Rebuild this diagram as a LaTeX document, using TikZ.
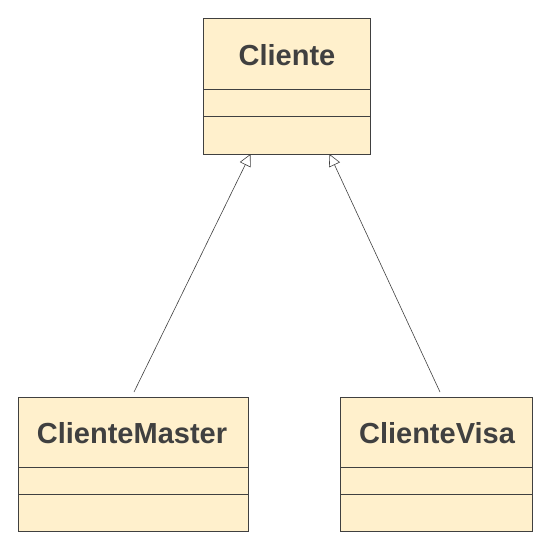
\documentclass[tikz,border=0pt]{standalone}
\usepackage{fontspec}
\setmainfont{Liberation Sans}
\usetikzlibrary{arrows.meta}
\definecolor{boxfill}{HTML}{FFF0CC}
\definecolor{boxdraw}{HTML}{404040}
\definecolor{txt}{HTML}{404040}
\begin{document}
\begin{tikzpicture}[x=1pt,y=-1pt,
  classbox/.style={draw=boxdraw,fill=boxfill,line width=0.9pt,inner sep=0pt,anchor=north west},
  divider/.style={draw=boxdraw,line width=0.9pt},
  title/.style={font=\fontsize{29}{32}\selectfont\bfseries,text=txt,inner sep=0pt},
  inh/.style={draw=boxdraw,line width=0.6pt,-{Triangle[open,length=12pt,width=12pt,line width=0.6pt]}}]
\useasboundingbox (0,0) rectangle (558,542);
% Cliente
\node[classbox,minimum width=167pt,minimum height=136pt] (c) at (203,18) {};
\draw[divider] (203,89) -- (370,89);
\draw[divider] (203,116) -- (370,116);
\node[title] (ct) at (287,55) {Cliente};
% ClienteMaster
\node[classbox,minimum width=230pt,minimum height=134pt] (m) at (18,397) {};
\draw[divider] (18,467) -- (248,467);
\draw[divider] (18,494) -- (248,494);
\node[title] (mt) at (132,433) {ClienteMaster};
% ClienteVisa
\node[classbox,minimum width=192pt,minimum height=134pt] (v) at (340,397) {};
\draw[divider] (340,467) -- (532,467);
\draw[divider] (340,494) -- (532,494);
\node[title] (vt) at (437,433) {ClienteVisa};
% connectors
\coordinate (ms) at (134,392);
\coordinate (vs) at (440,392);
\coordinate (ce1) at (250.5,154);
\coordinate (ce2) at (329.5,154);
\draw[inh] (ms) -- (ce1);
\draw[inh] (vs) -- (ce2);
\end{tikzpicture}
\end{document}
